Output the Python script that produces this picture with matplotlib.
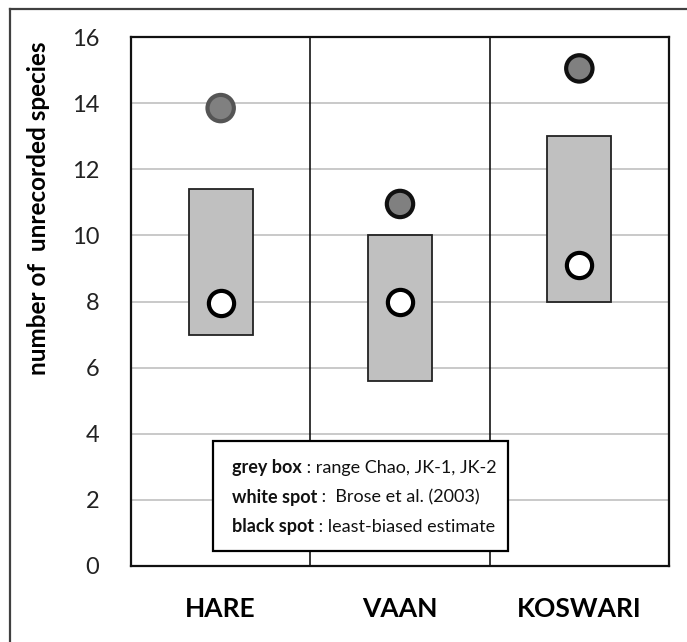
import matplotlib
matplotlib.use("Agg")
import matplotlib.pyplot as plt
from matplotlib.patches import Rectangle
from matplotlib.lines import Line2D

plt.rcParams['font.family'] = ['Lato', 'DejaVu Sans']

sites = ["HARE", "VAAN", "KOSWARI"]
box_low = [7.0, 5.6, 8.0]
box_high = [11.4, 10.0, 13.0]
white_spot = [7.95, 8.0, 9.1]
black_spot = [13.85, 10.95, 15.05]
black_edge = ["#555555", "#111111", "#111111"]
yticks = [0, 2, 4, 6, 8, 10, 12, 14, 16]

legend_bold = ["grey box", "white spot", "black spot"]
legend_rest = [" : range Chao, JK-1, JK-2", " :  Brose et al. (2003)", " : least-biased estimate"]

W, H = 687, 642
fig = plt.figure(figsize=(W / 100, H / 100), dpi=100)
ax = fig.add_axes([131 / W, 76 / H, 538 / W, 529 / H])

x = list(range(1, len(sites) + 1))
bw = 0.357

# grid lines
for v in yticks[1:-1]:
    ax.axhline(v, color="#c0c0c0", lw=1.2, zorder=0)
# separators
for xs in [1.5, 2.5]:
    ax.axvline(xs, color="black", lw=1.1, zorder=1)

for xi, lo, hi in zip(x, box_low, box_high):
    ax.add_patch(Rectangle((xi - bw / 2, lo), bw, hi - lo, facecolor="#c0c0c0",
                           edgecolor="#222222", lw=1.3, zorder=3))

ax.scatter(x, white_spot, s=330, facecolor="white", edgecolor="black", lw=3, zorder=4)
ax.scatter(x, black_spot, s=360, facecolor="#808080", edgecolor=black_edge, lw=3, zorder=4)

ax.set_xlim(0.5, 3.5)
ax.set_ylim(0, 16)
ax.set_yticks(yticks)
ax.set_xticks(x)
ax.set_xticklabels(sites, fontsize=19, fontweight="bold")
ax.tick_params(axis="y", length=0, pad=23, labelsize=17, labelcolor="#222222")
ax.tick_params(axis="x", length=0, pad=22)
for s in ax.spines.values():
    s.set_linewidth(1.6)
    s.set_color("#111111")
ax.set_ylabel("number of  unrecorded species", fontsize=17.5, fontweight="bold")
ax.yaxis.set_label_coords(-0.150, (566 - 208) / 529)

# legend box
lx0, lx1 = (213 - 131) / 538, (508 - 131) / 538
ly0, ly1 = (566 - 551) / 529, (566 - 441) / 529
ax.add_patch(Rectangle((lx0, ly0), lx1 - lx0, ly1 - ly0, transform=ax.transAxes,
                       facecolor="white", edgecolor="black", lw=1.6, zorder=5))
for i, (b, r) in enumerate(zip(legend_bold, legend_rest)):
    yy = (566 - (473 + 29.5 * i)) / 529
    t = ax.text((232 - 131) / 538, yy, b, transform=ax.transAxes, fontsize=13,
                fontweight="bold", va="baseline", ha="left", zorder=6, color="#111111")
    ax.annotate(r, xy=(1, 0), xycoords=t, va="bottom", ha="left", fontsize=13,
                zorder=6, color="#111111")

# outer frame
fig.add_artist(Line2D([10 / W, 10 / W], [0, 1 - 9 / H], color="#404040", lw=1.6))
fig.add_artist(Line2D([10 / W, 1], [1 - 9 / H, 1 - 9 / H], color="#404040", lw=1.6))

fig.savefig("out.png", dpi=100)
